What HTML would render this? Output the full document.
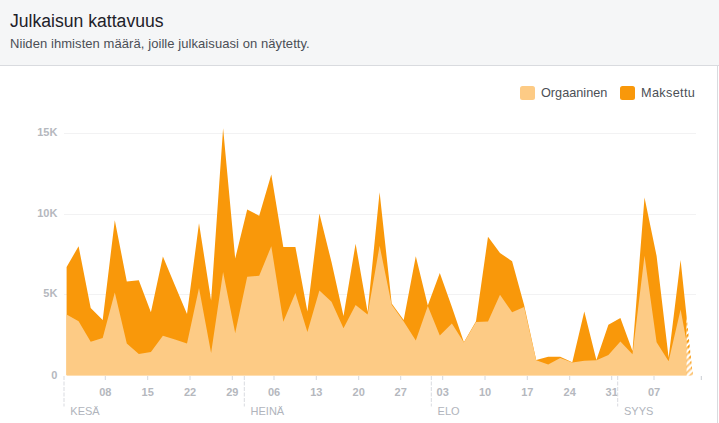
<!DOCTYPE html>
<html><head><meta charset="utf-8"><title>Julkaisun kattavuus</title>
<style>
html,body{margin:0;padding:0;background:#fff;}
body{width:719px;height:423px;overflow:hidden;position:relative;font-family:"Liberation Sans",Arial,sans-serif;}
.hdr{position:absolute;left:0;top:0;width:719px;height:65px;background:#f5f6f7;border-bottom:1px solid #d9dbdf;box-sizing:content-box;}
.ttl{position:absolute;left:10px;top:10.5px;font-size:17.6px;color:#1d2129;white-space:nowrap;line-height:20px;}
.sub{position:absolute;left:10px;top:36px;font-size:13px;letter-spacing:0.07px;color:#4b4f56;white-space:nowrap;line-height:16px;}
.rb{position:absolute;left:717px;top:66px;width:1px;height:357px;background:#d9dbdf;}
.lg{position:absolute;top:85.5px;font-size:12.7px;color:#4b4f56;line-height:15px;white-space:nowrap;}
.sw{position:absolute;top:86px;width:15px;height:14px;border-radius:2.5px;}
svg{position:absolute;left:0;top:0;}
.tk{font-family:"Liberation Sans",Arial,sans-serif;font-size:11px;fill:#b5b8be;font-weight:bold;}
.mo{font-family:"Liberation Sans",Arial,sans-serif;font-size:11px;fill:#b0b4bc;}
</style></head><body>
<div class="hdr"><div class="ttl">Julkaisun kattavuus</div><div class="sub">Niiden ihmisten määrä, joille julkaisuasi on näytetty.</div></div>
<div class="rb"></div>
<div class="sw" style="left:520px;background:#fdcb85"></div><div class="lg" style="left:541px">Orgaaninen</div>
<div class="sw" style="left:620px;background:#f9980a"></div><div class="lg" style="left:641px;letter-spacing:0.35px">Maksettu</div>
<svg width="719" height="423" viewBox="0 0 719 423">
<defs>
<pattern id="hl" width="4.3" height="4.3" patternUnits="userSpaceOnUse" patternTransform="rotate(-45)"><rect width="4.3" height="4.3" fill="#fff"/><rect width="4.3" height="2.1" fill="#fdcb85"/></pattern>
<pattern id="hd" width="4.3" height="4.3" patternUnits="userSpaceOnUse" patternTransform="rotate(-45)"><rect width="4.3" height="4.3" fill="#fff"/><rect width="4.3" height="2.1" fill="#f9980a"/></pattern>
</defs>
<line x1="64" y1="133.5" x2="696" y2="133.5" stroke="#f2f2f3" stroke-width="1"/><line x1="64" y1="214.5" x2="696" y2="214.5" stroke="#f2f2f3" stroke-width="1"/><line x1="64" y1="294.5" x2="696" y2="294.5" stroke="#f2f2f3" stroke-width="1"/>
<polygon points="66.6,375.2 66.6,266.9 78.6,246.3 90.7,308 102.7,320 114.8,220.2 126.8,281.4 138.8,280.2 150.9,312.3 162.9,256.4 175.0,285.5 187.0,314 199.0,223.3 211.1,300.5 223.1,128.3 235.2,258.5 247.2,209.5 259.2,215.8 271.3,174.4 283.3,246.9 295.4,246.9 307.4,311.5 319.4,213.5 331.5,262 343.5,316 355.6,243.7 367.6,312 379.6,192.2 391.7,303.5 403.7,320 415.8,256.2 427.8,305.5 439.8,273 451.9,307 463.9,342.2 476.0,321.2 488.0,236.8 500.0,253 512.1,261.2 524.1,305 536.2,360 548.2,356.8 560.2,356.8 572.3,362.2 584.3,311.6 596.4,360 608.4,324.7 620.4,317.9 632.5,351 644.5,197.4 656.6,256 668.6,357.5 680.6,259.9 686.6,316.7 686.6,375.2" fill="#f9980a"/>
<polygon points="686.6,375.2 686.6,316.7 692.7,374.5 692.7,375.2" fill="url(#hd)"/>
<polygon points="66.6,375.2 66.6,314.5 78.6,321.2 90.7,341.7 102.7,337.9 114.8,292.5 126.8,343.5 138.8,353.9 150.9,351.9 162.9,335.7 175.0,339.4 187.0,343.5 199.0,288 211.1,352.9 223.1,272 235.2,332.9 247.2,276.7 259.2,275.8 271.3,246.2 283.3,321.7 295.4,293 307.4,332 319.4,290.5 331.5,301.7 343.5,328.2 355.6,305.1 367.6,314.5 379.6,245.7 391.7,304.8 403.7,321.5 415.8,340.5 427.8,306 439.8,335.5 451.9,323.4 463.9,342.5 476.0,322 488.0,321.6 500.0,294.8 512.1,312.3 524.1,307 536.2,360.2 548.2,364.6 560.2,357.9 572.3,362.4 584.3,360.8 596.4,360.2 608.4,355 620.4,341.4 632.5,354.2 644.5,255.8 656.6,342.3 668.6,361.3 680.6,309.6 686.6,341.9 686.6,375.2" fill="#fdcb85"/>
<polygon points="686.6,375.2 686.6,341.9 692.7,374.8 692.7,375.2" fill="url(#hl)"/>
<text x="57.4" y="136" text-anchor="end" class="tk">15K</text><text x="57.4" y="217" text-anchor="end" class="tk">10K</text><text x="57.4" y="297" text-anchor="end" class="tk">5K</text><text x="57.4" y="378.5" text-anchor="end" class="tk">0</text>
<line x1="105.3" y1="376" x2="105.3" y2="380" stroke="#d5d8de" stroke-width="1"/><text x="105.3" y="396" text-anchor="middle" class="tk">08</text><line x1="147.7" y1="376" x2="147.7" y2="380" stroke="#d5d8de" stroke-width="1"/><text x="147.7" y="396" text-anchor="middle" class="tk">15</text><line x1="190" y1="376" x2="190" y2="380" stroke="#d5d8de" stroke-width="1"/><text x="190" y="396" text-anchor="middle" class="tk">22</text><line x1="232.3" y1="376" x2="232.3" y2="380" stroke="#d5d8de" stroke-width="1"/><text x="232.3" y="396" text-anchor="middle" class="tk">29</text><line x1="274" y1="376" x2="274" y2="380" stroke="#d5d8de" stroke-width="1"/><text x="274" y="396" text-anchor="middle" class="tk">06</text><line x1="316.3" y1="376" x2="316.3" y2="380" stroke="#d5d8de" stroke-width="1"/><text x="316.3" y="396" text-anchor="middle" class="tk">13</text><line x1="358.7" y1="376" x2="358.7" y2="380" stroke="#d5d8de" stroke-width="1"/><text x="358.7" y="396" text-anchor="middle" class="tk">20</text><line x1="400.7" y1="376" x2="400.7" y2="380" stroke="#d5d8de" stroke-width="1"/><text x="400.7" y="396" text-anchor="middle" class="tk">27</text><line x1="442.7" y1="376" x2="442.7" y2="380" stroke="#d5d8de" stroke-width="1"/><text x="442.7" y="396" text-anchor="middle" class="tk">03</text><line x1="485" y1="376" x2="485" y2="380" stroke="#d5d8de" stroke-width="1"/><text x="485" y="396" text-anchor="middle" class="tk">10</text><line x1="527.3" y1="376" x2="527.3" y2="380" stroke="#d5d8de" stroke-width="1"/><text x="527.3" y="396" text-anchor="middle" class="tk">17</text><line x1="569.7" y1="376" x2="569.7" y2="380" stroke="#d5d8de" stroke-width="1"/><text x="569.7" y="396" text-anchor="middle" class="tk">24</text><line x1="611.7" y1="376" x2="611.7" y2="380" stroke="#d5d8de" stroke-width="1"/><text x="611.7" y="396" text-anchor="middle" class="tk">31</text><line x1="654" y1="376" x2="654" y2="380" stroke="#d5d8de" stroke-width="1"/><text x="654" y="396" text-anchor="middle" class="tk">07</text><line x1="701.3" y1="376" x2="701.3" y2="380" stroke="#c9ccd3" stroke-width="1"/>
<line x1="64" y1="376" x2="64" y2="406.5" stroke="#d9dbe0" stroke-width="1" stroke-dasharray="4,1.5"/><text x="70.3" y="414.6" class="mo">KESÄ</text><line x1="244.3" y1="376" x2="244.3" y2="406.5" stroke="#d9dbe0" stroke-width="1" stroke-dasharray="4,1.5"/><text x="250.60000000000002" y="414.6" class="mo">HEINÄ</text><line x1="431.3" y1="376" x2="431.3" y2="406.5" stroke="#d9dbe0" stroke-width="1" stroke-dasharray="4,1.5"/><text x="437.6" y="414.6" class="mo">ELO</text><line x1="617.7" y1="376" x2="617.7" y2="406.5" stroke="#d9dbe0" stroke-width="1" stroke-dasharray="4,1.5"/><text x="624.0" y="414.6" class="mo">SYYS</text>
</svg>
</body></html>
